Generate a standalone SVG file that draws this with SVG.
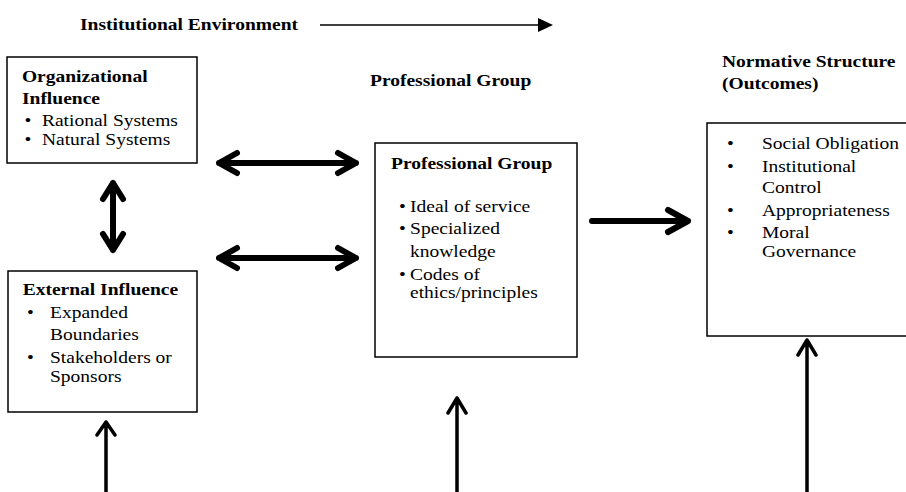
<svg xmlns="http://www.w3.org/2000/svg" width="906" height="492" viewBox="0 0 906 492">
  <style>
    text { font-family: "Liberation Serif", "Times New Roman", serif; font-size: 16px; fill: #000; }
    .b { font-weight: bold; }
    .box { fill: #fff; stroke: #000; stroke-width: 1.5; }
    .thick { fill: none; stroke: #000; stroke-width: 6; stroke-linecap: round; stroke-linejoin: round; }
    .thin { fill: none; stroke: #000; stroke-width: 3.5; stroke-linecap: round; stroke-linejoin: round; }
  </style>
  <rect width="906" height="492" fill="#fff"/>

  <!-- title row -->
  <g id="institutional-environment">
    <g transform="scale(1.22 1)">
      <text class="b" x="65.6" y="30">Institutional Environment</text>
    </g>
  </g>

  <!-- column headers -->
  <g id="header-professional">
    <g transform="scale(1.22 1)">
      <text class="b" x="303.3" y="86">Professional Group</text>
    </g>
  </g>
  <g id="header-normative">
    <g transform="scale(1.22 1)">
      <text class="b" x="591.8" y="67">Normative Structure</text>
      <text class="b" x="591.8" y="89">(Outcomes)</text>
    </g>
  </g>

  <!-- organizational influence -->
  <g id="organizational-influence">
    <rect class="box" x="7" y="57" width="190" height="106"/>
    <g transform="scale(1.22 1)">
      <text class="b" x="18" y="82">Organizational</text>
      <text class="b" x="18" y="104">Influence</text>
      <text x="20.1" y="126">•</text><text x="34.4" y="126">Rational Systems</text>
      <text x="20.1" y="145">•</text><text x="34.4" y="145">Natural Systems</text>
    </g>
  </g>

  <!-- external influence -->
  <g id="external-influence">
    <rect class="box" x="8" y="271" width="189" height="141"/>
    <g transform="scale(1.22 1)">
      <text class="b" x="18.6" y="295">External Influence</text>
      <text x="22.1" y="318">•</text><text x="41" y="318">Expanded</text>
      <text x="41" y="340">Boundaries</text>
      <text x="22.1" y="363">•</text><text x="41" y="363">Stakeholders or</text>
      <text x="41" y="382">Sponsors</text>
    </g>
  </g>

  <!-- professional group -->
  <g id="professional-group">
    <rect class="box" x="375" y="143" width="202" height="214"/>
    <g transform="scale(1.22 1)">
      <text class="b" x="320.5" y="169">Professional Group</text>
      <text x="327" y="212">•</text><text x="336.1" y="212">Ideal of service</text>
      <text x="327" y="234">•</text><text x="336.1" y="234">Specialized</text>
      <text x="336.1" y="257">knowledge</text>
      <text x="327" y="280">•</text><text x="336.1" y="280">Codes of</text>
      <text x="336.1" y="298">ethics/principles</text>
    </g>
  </g>

  <!-- normative structure -->
  <g id="normative-structure">
    <rect class="box" x="707" y="123" width="206" height="213"/>
    <g transform="scale(1.22 1)">
      <text x="595.9" y="149">•</text><text x="624.6" y="149">Social Obligation</text>
      <text x="595.9" y="172">•</text><text x="624.6" y="172">Institutional</text>
      <text x="624.6" y="193">Control</text>
      <text x="595.9" y="216">•</text><text x="624.6" y="216">Appropriateness</text>
      <text x="595.9" y="238">•</text><text x="624.6" y="238">Moral</text>
      <text x="624.6" y="257">Governance</text>
    </g>
  </g>

  <!-- connectors -->
  <g id="connectors">
    <!-- environment timeline arrow -->
    <line x1="320" y1="25" x2="540" y2="25" stroke="#000" stroke-width="1.5"/>
    <polygon points="538,18 553,25 538,32" fill="#000"/>

    <!-- organizational <-> professional -->
    <path class="thick" d="M219,163 H356 M237,153 L219,163 L237,173 M338,153 L356,163 L338,173"/>
    <!-- external <-> professional -->
    <path class="thick" d="M219,258 H356 M237,248 L219,258 L237,268 M338,248 L356,258 L338,268"/>
    <!-- organizational <-> external -->
    <path class="thick" d="M113,183 V250 M103,199 L113,183 L123,199 M103,234 L113,250 L123,234"/>
    <!-- professional -> normative -->
    <path class="thick" d="M592,221 H688 M668,210 L688,221 L668,232" stroke-width="7"/>

    <!-- incoming environment arrows from below -->
    <path class="thin" d="M106,492 V422 M97,435 L106,422 L115,435"/>
    <path class="thin" d="M457,492 V398 M448,413 L457,398 L466,413"/>
    <path class="thin" d="M807,492 V340 M798,355 L807,340 L816,355"/>
  </g>
</svg>
